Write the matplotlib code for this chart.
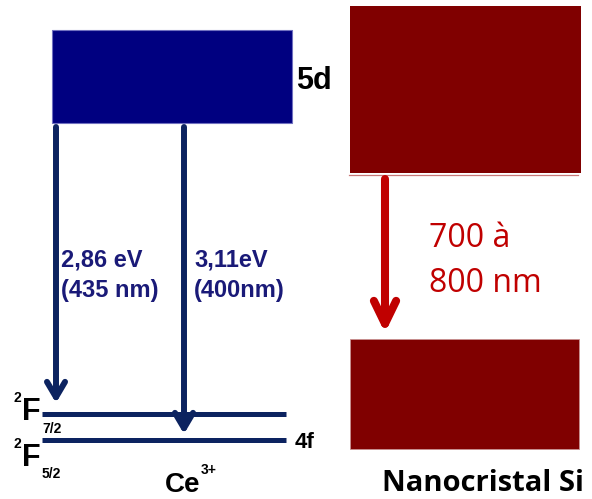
import matplotlib
matplotlib.use('Agg')
import matplotlib.pyplot as plt
from matplotlib.patches import Rectangle

# Ce3+ : niveaux (en unites du schema, axe y vers le bas)
ce_5d = [30, 123]                 # haut / bas de la bande 5d
ce_4f_levels = [413.5, 439.5]     # 2F7/2 , 2F5/2
ce_4f_names = ['7/2', '5/2']
ce_x = [52, 292]                  # etendue horizontale de la bande 5d
ce_line_x = [42, 286]

# transitions Ce3+
trans_x = [56, 184]
trans_end = [403, 434]
trans_ev = ['2,86 eV', '3,11eV']
trans_nm = ['(435 nm)', '(400nm)']
trans_label_x = [61, 194]

# nanocristal Si : bandes
si_x = [350, 581]
si_upper = [6, 173]
si_lower = [339, 449]
si_arrow_x = 385
si_label = ['700 à', '800 nm']

blue = '#000080'
navy = '#0c2360'
txtblue = '#1a1a78'
dred = '#800000'
red = '#c00000'

fig = plt.figure(figsize=(5.92, 4.99), dpi=100)
ax = fig.add_axes([0, 0, 1, 1])
ax.set_xlim(0, 592)
ax.set_ylim(499, 0)
ax.axis('off')

# bande 5d
ax.add_patch(Rectangle((ce_x[0], ce_5d[0]), ce_x[1] - ce_x[0], ce_5d[1] - ce_5d[0],
                       facecolor=blue, edgecolor='#7070c0', lw=0.8))
ax.text(296, 89, '5d', fontsize=22, fontweight='bold', family='Liberation Sans', va='baseline')

# niveaux 4f
for y in ce_4f_levels:
    ax.plot(ce_line_x, [y, y], color=navy, lw=3.6, solid_capstyle='butt')
ax.text(295, 448, '4f', fontsize=16, fontweight='bold', family='Liberation Sans', va='baseline')

# etiquettes 2F
sup_base = [402, 448]
f_base = [420, 466]
sub_base = [433, 478]
for i in range(2):
    ax.text(14, sup_base[i], '2', fontsize=10, fontweight='bold', family='Liberation Sans', va='baseline')
    ax.text(22, f_base[i], 'F', fontsize=22, fontweight='bold', family='Liberation Sans', va='baseline')
    ax.text(42, sub_base[i], ce_4f_names[i], fontsize=10, fontweight='bold', family='Liberation Sans', va='baseline')

ax.text(165, 492, 'Ce', fontsize=20, fontweight='bold', family='Liberation Sans', va='baseline')
ax.text(201, 474, '3+', fontsize=10, fontweight='bold', family='Liberation Sans', va='baseline')

# fleches des transitions
for i in range(2):
    ax.annotate('', xy=(trans_x[i], trans_end[i]), xytext=(trans_x[i], 127),
                arrowprops=dict(arrowstyle='->,head_length=11,head_width=6.5',
                                mutation_scale=1, color=navy, lw=4.3,
                                shrinkA=0, shrinkB=0))
    ax.text(trans_label_x[i], 267, trans_ev[i], fontsize=17, fontweight='bold', color=txtblue,
            family='Liberation Sans', va='baseline')
    ax.text(trans_label_x[i], 297, trans_nm[i], fontsize=17, fontweight='bold', color=txtblue,
            family='Liberation Sans', va='baseline')

# nanocristal Si
ax.add_patch(Rectangle((si_x[0], si_upper[0]), si_x[1] - si_x[0], si_upper[1] - si_upper[0],
                       facecolor=dred, edgecolor='none'))
ax.plot([349, 578], [174.5, 174.5], color='#c87878', lw=0.9)
ax.add_patch(Rectangle((si_x[0], si_lower[0]), si_x[1] - si_x[0] - 2, si_lower[1] - si_lower[0],
                       facecolor=dred, edgecolor='#c89090', lw=0.6))

ax.annotate('', xy=(si_arrow_x, 333), xytext=(si_arrow_x, 179),
            arrowprops=dict(arrowstyle='->,head_length=16.5,head_width=8',
                            mutation_scale=1, color=red, lw=5.8,
                            shrinkA=0, shrinkB=0))
ax.text(429, 247, si_label[0], fontsize=23, color=red, family='Open Sans', va='baseline')
ax.text(429, 292, si_label[1], fontsize=23, color=red, family='Open Sans', va='baseline')

ax.text(382, 491, 'Nanocristal Si', fontsize=21, fontweight='bold', family='Open Sans',
        va='baseline')

fig.savefig('out.png', dpi=100)
